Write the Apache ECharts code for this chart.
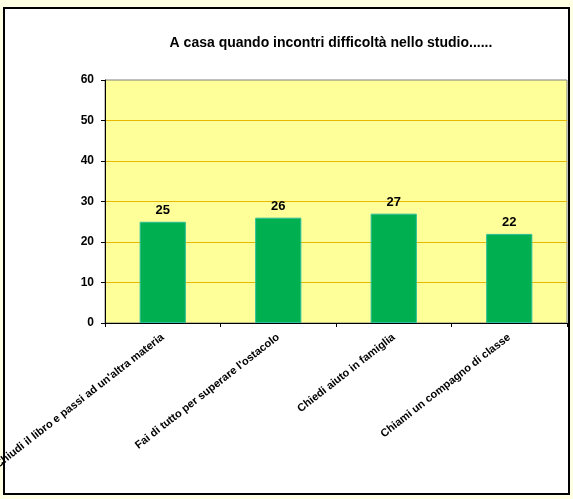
<!DOCTYPE html>
<html>
<head>
<meta charset="utf-8">
<script src="https://cdn.jsdelivr.net/npm/echarts@6/dist/echarts.min.js"></script>
<style>
  body { margin: 0; background: #FFFFE3; }
  #box { position: absolute; left: 3px; top: 7px; width: 563px; height: 484px; border: 2px solid #000; background: #fff; }
  #main { position: absolute; left: 0; top: 0; width: 573px; height: 499px; }
</style>
</head>
<body>
<div id="box"></div>
<div id="main"></div>
<script>
var titleText = 'A casa quando incontri difficoltà nello studio......';
var categories = [
  "Chiudi il libro e passi ad un'altra materia",
  "Fai di tutto per superare l'ostacolo",
  "Chiedi aiuto in famiglia",
  "Chiami un compagno di classe"
];
var values = [25, 26, 27, 22];

var chartDom = document.getElementById('main');
var myChart = echarts.init(chartDom);
var option;

option = {
  animation: false,
  textStyle: { fontFamily: 'Arial, "Liberation Sans", sans-serif' },
  title: {
    text: titleText,
    left: 326,
    textAlign: 'center',
    top: 31,
    textStyle: { fontSize: 14, fontWeight: 'bold', color: '#000' }
  },
  grid: {
    left: 105,
    right: 6,
    top: 80,
    bottom: 176,
    outerBoundsMode: 'none',
    containLabel: false,
    show: true,
    backgroundColor: '#FFFF99',
    borderColor: '#808080',
    borderWidth: 1
  },
  xAxis: [
    {
      type: 'category',
      data: categories,
      axisLine: { lineStyle: { color: '#000', width: 1 } },
      axisTick: { show: true, length: 4, lineStyle: { color: '#000' } },
      axisLabel: {
        interval: 0,
        rotate: 38,
        margin: 13,
        color: '#000',
        fontSize: 11,
        fontWeight: 'bold'
      }
    }
  ],
  yAxis: [
    {
      type: 'value',
      min: 0,
      max: 60,
      interval: 10,
      axisLine: { show: true, lineStyle: { color: '#000', width: 1 } },
      axisTick: { show: true, length: 4, lineStyle: { color: '#000' } },
      axisLabel: { color: '#000', fontSize: 12, fontWeight: 'bold', margin: 11 },
      splitLine: {
        show: true,
        showMaxLine: false,
        lineStyle: { color: '#E6B800', width: 1 }
      }
    }
  ],
  series: [
    {
      type: 'bar',
      data: values,
      barWidth: '40%',
      itemStyle: { color: '#00B050', borderColor: '#2DBE9A', borderWidth: 1 },
      label: {
        show: true,
        position: 'top',
        distance: 5,
        color: '#000',
        fontSize: 13,
        fontWeight: 'bold'
      }
    }
  ]
};

option && myChart.setOption(option);
</script>
</body>
</html>
